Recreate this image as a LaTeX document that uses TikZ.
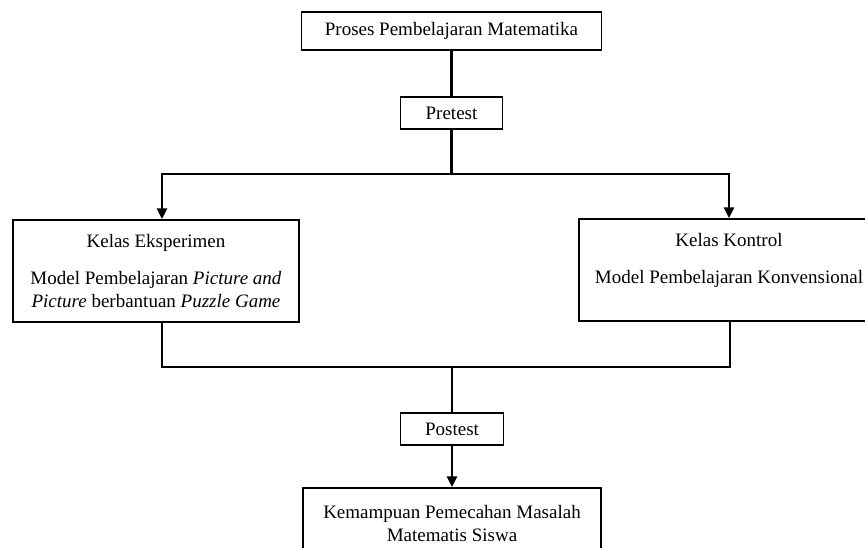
\documentclass[tikz,border=0pt]{standalone}
\usepackage{fontspec}
\setmainfont{Liberation Serif}
\usetikzlibrary{arrows.meta}
\begin{document}
\begin{tikzpicture}[x=1pt,y=-1pt,
  box/.style={draw=black,line width=1.5pt,inner sep=0pt,align=center,
    font=\fontsize{19pt}{23pt}\selectfont},
  conn/.style={line width=2.8pt,line join=miter},
  arrowline/.style={conn,-{Triangle[length=11pt,width=10pt]}}]
\useasboundingbox (0,0) rectangle (865,547);
\clip (0,0) rectangle (865,547);
\fill[white] (0,0) rectangle (865,547);
\node[box,minimum width=300pt,minimum height=38pt] (top) at (451.5,31) {Proses Pembelajaran Matematika};
\node[box,minimum width=102pt,minimum height=32pt] (pre) at (451.5,113) {Pretest};
\node[box,minimum width=286pt,minimum height=102pt] (left) at (156,271)
  {Kelas Eksperimen\\[14pt]Model Pembelajaran \textit{Picture and}\\\textit{Picture} berbantuan \textit{Puzzle Game}};
\node[box,minimum width=300pt,minimum height=102pt] (right) at (729,270)
  {Kelas Kontrol\\[14pt]Model Pembelajaran Konvensional\\\mbox{}};
\node[box,minimum width=103pt,minimum height=32pt] (post) at (452,429) {Postest};
\node[box,minimum width=298pt,minimum height=70pt] (bot) at (452,523)
  {Kemampuan Pemecahan Masalah\\Matematis Siswa};
\coordinate (j1) at (451.5,174);
\coordinate (j2) at (452,367);
\draw[conn] (top.south) -- (pre.north);
\draw[conn] (pre.south) -- (j1);
\draw[arrowline] (j1) -| ([xshift=6pt]left.north);
\draw[arrowline] (j1) -| (right.north);
\draw[conn] ([xshift=6pt]left.south) |- (j2);
\draw[conn] ([xshift=1pt]right.south) |- (j2);
\draw[conn] (j2) -- (post.north);
\draw[arrowline] (post.south) -- (bot.north);
\end{tikzpicture}
\end{document}
